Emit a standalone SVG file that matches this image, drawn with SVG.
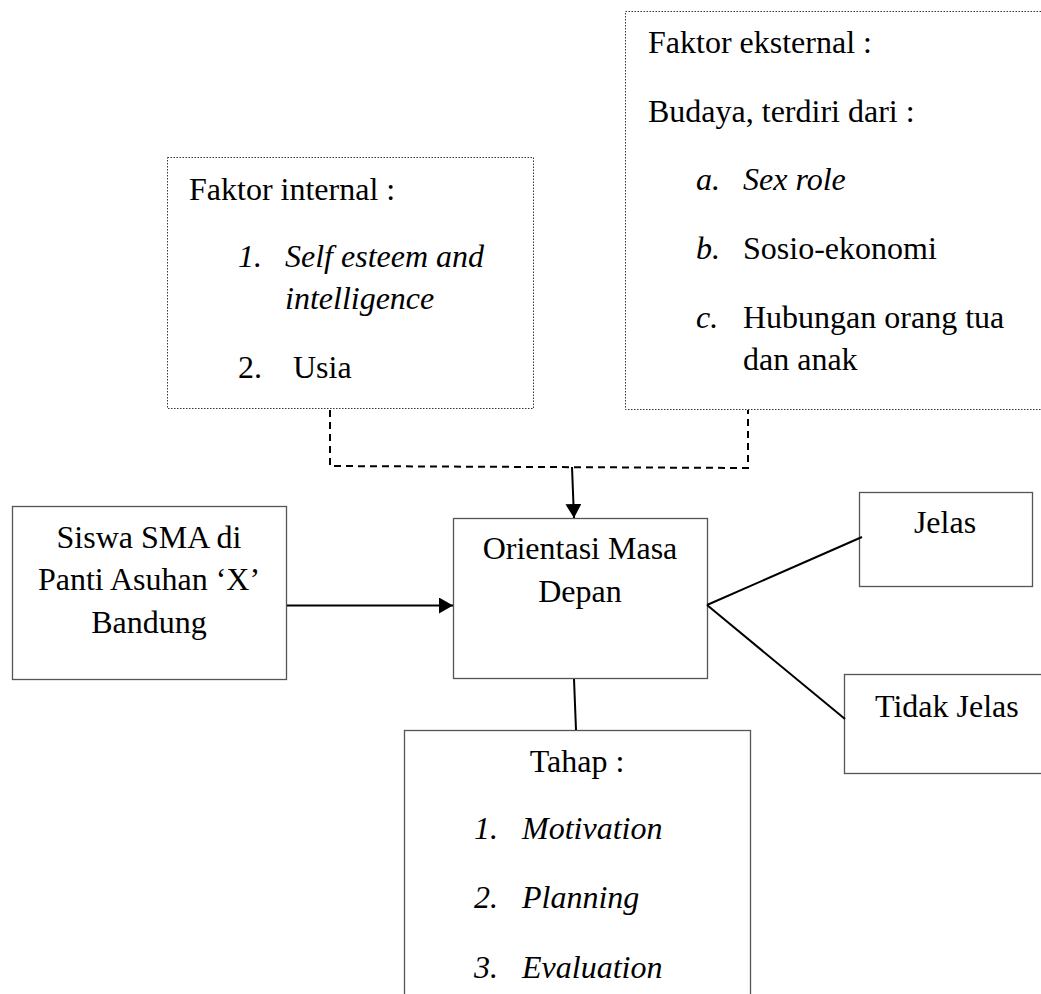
<svg xmlns="http://www.w3.org/2000/svg" width="1041" height="994" viewBox="0 0 1041 994">
<style>
text{font-family:"Liberation Serif","Times New Roman",serif;font-size:32px;fill:#000}
.i{font-style:italic}
.m{text-anchor:middle}
.box{fill:#fff;stroke:#555;stroke-width:1.3}
.dot{fill:#fff;stroke:#333;stroke-width:1;stroke-dasharray:1.5 1.5}
.ln{fill:none;stroke:#000;stroke-width:2}
.dash{fill:none;stroke:#000;stroke-width:2;stroke-dasharray:7 5}
</style>
<defs>
<marker id="ah" viewBox="0 0 14 16" refX="14" refY="8" markerWidth="14" markerHeight="16" markerUnits="userSpaceOnUse" orient="auto">
<path d="M0,0 L14,8 L0,16 z" fill="#000"/>
</marker>
</defs>
<rect width="1041" height="994" fill="#fff"/>
<g id="eksternal">
<rect class="dot" x="625.5" y="11.5" width="430" height="398"/>
<text x="648" y="53">Faktor eksternal :</text>
<text x="648" y="122">Budaya, terdiri dari :</text>
<text x="696" y="190" class="i">a.</text><text x="743" y="190" class="i">Sex role</text>
<text x="696" y="259" class="i">b.</text><text x="743" y="259">Sosio-ekonomi</text>
<text x="696" y="328" class="i">c.</text><text x="743" y="328">Hubungan orang tua</text>
<text x="743" y="370">dan anak</text>
</g>
<g id="internal">
<rect class="dot" x="167.5" y="157.5" width="366" height="251"/>
<text x="189" y="200">Faktor internal :</text>
<text x="238" y="267" class="i">1.</text><text x="285" y="267" class="i">Self esteem and</text>
<text x="285" y="309" class="i">intelligence</text>
<text x="238" y="378">2.</text><text x="293" y="378">Usia</text>
</g>
<g id="siswa">
<rect class="box" x="12.5" y="506.5" width="274" height="173"/>
<text x="149" y="548" class="m">Siswa SMA di</text>
<text x="149" y="590" class="m">Panti Asuhan ‘X’</text>
<text x="149" y="633" class="m">Bandung</text>
</g>
<g id="orientasi">
<rect class="box" x="453.5" y="518.5" width="254" height="160"/>
<text x="580" y="559" class="m">Orientasi Masa</text>
<text x="580" y="602" class="m">Depan</text>
</g>
<g id="jelas">
<rect class="box" x="859.5" y="492.5" width="173" height="94"/>
<text x="945" y="533" class="m">Jelas</text>
</g>
<g id="tidakjelas">
<rect class="box" x="844.5" y="674.5" width="210" height="99"/>
<text x="875" y="717">Tidak Jelas</text>
</g>
<g id="tahap">
<rect class="box" x="404.5" y="730.5" width="346" height="280"/>
<text x="577" y="772" class="m">Tahap :</text>
<text x="474" y="839" class="i">1.</text><text x="522" y="839" class="i">Motivation</text>
<text x="474" y="908" class="i">2.</text><text x="522" y="908" class="i">Planning</text>
<text x="474" y="978" class="i">3.</text><text x="522" y="978" class="i">Evaluation</text>
</g>
<g id="connectors">
<path class="dash" d="M330,410 V466 L748,468 V410"/>
<line class="ln" x1="572" y1="467" x2="574" y2="518" marker-end="url(#ah)"/>
<line class="ln" x1="287" y1="605.5" x2="453" y2="605.5" marker-end="url(#ah)"/>
<line class="ln" x1="707" y1="605" x2="862" y2="537"/>
<line class="ln" x1="707" y1="605" x2="845" y2="719"/>
<line class="ln" x1="574" y1="679" x2="576" y2="730"/>
</g>
</svg>
